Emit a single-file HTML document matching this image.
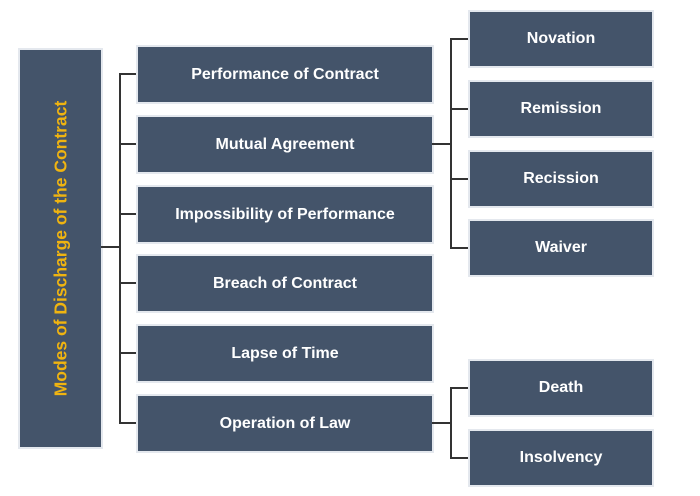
<!DOCTYPE html>
<html><head><style>
body{margin:0;width:700px;height:496px;background:#fff;position:relative;font-family:"Liberation Sans",sans-serif;overflow:hidden}
.b{position:absolute;background:#44546a;color:#fff;font-weight:bold;font-size:16px;display:flex;align-items:center;justify-content:center;box-shadow:0 0 0 2px #e4e8ee}
.m{left:138px;width:294px;height:55px}
.r{left:470px;width:182px;height:54px}
.l{position:absolute;background:#333}
</style></head><body>
<div class="b" style="left:20px;top:50px;width:81px;height:397px"><div style="transform:rotate(-90deg);white-space:nowrap;color:#f0b410;font-size:17.5px">Modes of Discharge of the Contract</div></div>
<div class="l" style="left:101px;top:246px;width:19px;height:2px"></div>
<div class="l" style="left:119px;top:73px;width:2px;height:351px"></div>
<div class="l" style="left:119px;top:73px;width:19px;height:2px"></div>
<div class="l" style="left:119px;top:143px;width:19px;height:2px"></div>
<div class="l" style="left:119px;top:213px;width:19px;height:2px"></div>
<div class="l" style="left:119px;top:282px;width:19px;height:2px"></div>
<div class="l" style="left:119px;top:352px;width:19px;height:2px"></div>
<div class="l" style="left:119px;top:422px;width:19px;height:2px"></div>
<div class="b m" style="top:47px">Performance of Contract</div>
<div class="b m" style="top:117px">Mutual Agreement</div>
<div class="b m" style="top:187px">Impossibility of Performance</div>
<div class="b m" style="top:256px">Breach of Contract</div>
<div class="b m" style="top:326px">Lapse of Time</div>
<div class="b m" style="top:396px">Operation of Law</div>
<div class="l" style="left:432px;top:143px;width:19px;height:2px"></div>
<div class="l" style="left:450px;top:38px;width:2px;height:211px"></div>
<div class="l" style="left:450px;top:38px;width:20px;height:2px"></div>
<div class="l" style="left:450px;top:108px;width:20px;height:2px"></div>
<div class="l" style="left:450px;top:178px;width:20px;height:2px"></div>
<div class="l" style="left:450px;top:247px;width:20px;height:2px"></div>
<div class="l" style="left:432px;top:422px;width:19px;height:2px"></div>
<div class="l" style="left:450px;top:387px;width:2px;height:72px"></div>
<div class="l" style="left:450px;top:387px;width:20px;height:2px"></div>
<div class="l" style="left:450px;top:457px;width:20px;height:2px"></div>
<div class="b r" style="top:12px">Novation</div>
<div class="b r" style="top:82px">Remission</div>
<div class="b r" style="top:152px">Recission</div>
<div class="b r" style="top:221px">Waiver</div>
<div class="b r" style="top:361px">Death</div>
<div class="b r" style="top:431px">Insolvency</div>
</body></html>
